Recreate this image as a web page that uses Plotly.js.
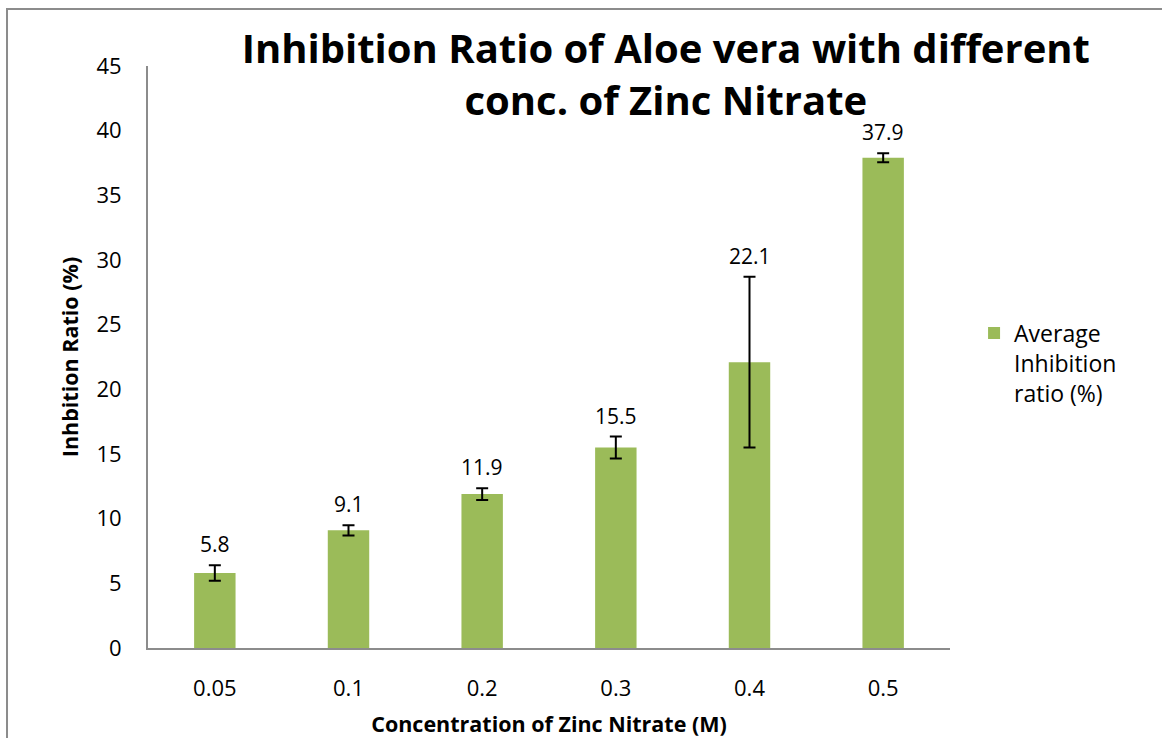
<!DOCTYPE html>
<html>
<head>
<meta charset="utf-8">
<script src="https://cdn.plot.ly/plotly-3.0.1.min.js"></script>
<style>html,body{margin:0;padding:0;background:#fff;overflow:hidden}#chart{width:1162px;height:738px}</style>
</head>
<body>
<div id="chart"></div>
<script>
const categories = ["0.05", "0.1", "0.2", "0.3", "0.4", "0.5"];
const avgInhibition = [5.8, 9.1, 11.9, 15.5, 22.1, 37.9];
const errors = [0.6, 0.4, 0.45, 0.85, 6.6, 0.35];
const seriesName = "Average<br>Inhibition<br>ratio (%)";

const FONT = "'Open Sans', 'DejaVu Sans', sans-serif";

const trace = {
  type: "bar",
  x: categories,
  y: avgInhibition,
  name: seriesName,
  width: 0.31,
  marker: {color: "#9BBB59"},
  error_y: {type: "data", array: errors, visible: true, color: "#000", thickness: 2, width: 6},
  showlegend: true
};

const annotations = categories.map((c, i) => ({
  x: i, y: avgInhibition[i] + errors[i], xref: "x", yref: "y",
  text: avgInhibition[i].toFixed(1), showarrow: false,
  yanchor: "middle", yshift: 21,
  font: {family: FONT, size: 21, color: "#000"}
}));

const layout = {
  width: 1162, height: 738,
  margin: {l: 148, r: 212, t: 66, b: 90},
  paper_bgcolor: "#fff", plot_bgcolor: "#fff",
  font: {family: FONT, color: "#000"},
  title: {
    text: "<b>Inhibition Ratio of Aloe vera with different<br>conc. of Zinc Nitrate</b>",
    x: 0.573, xanchor: "center", y: 0.914, yanchor: "top",
    font: {family: FONT, size: 40, color: "#000"}
  },
  xaxis: {
    type: "category",
    showline: true, linecolor: "#8c8c8c", linewidth: 2,
    ticks: "", showgrid: false, zeroline: false,
    tickfont: {family: FONT, size: 22, color: "#000"},
    ticklabelstandoff: 20,
    title: {text: "<b>Concentration of Zinc Nitrate (M)</b>", font: {family: FONT, size: 21.5, color: "#000"}, standoff: 16}
  },
  yaxis: {
    range: [0, 45], dtick: 5,
    showline: true, linecolor: "#8c8c8c", linewidth: 2,
    ticks: "", showgrid: false, zeroline: false,
    tickfont: {family: FONT, size: 22, color: "#000"},
    ticklabelstandoff: 20,
    title: {text: "<b>Inhbition Ratio (%)</b>", font: {family: FONT, size: 21.5, color: "#000"}, standoff: 12}
  },
  legend: {
    x: 1.03, y: 0.578, xanchor: "left", yanchor: "top", valign: "top",
    font: {family: FONT, size: 23, color: "#000"},
    itemwidth: 30, bgcolor: "rgba(0,0,0,0)"
  },
  annotations: annotations,
  shapes: [{
    type: "rect", xref: "paper", yref: "paper",
    x0: -0.1758, x1: 1.4, y0: -0.3, y1: 1.098,
    line: {color: "#8c8c8c", width: 2}, fillcolor: "rgba(0,0,0,0)", layer: "above"
  }],
  bargap: 0.69
};

Plotly.newPlot("chart", [trace], layout, {displayModeBar: false, staticPlot: true});
</script>
</body>
</html>
